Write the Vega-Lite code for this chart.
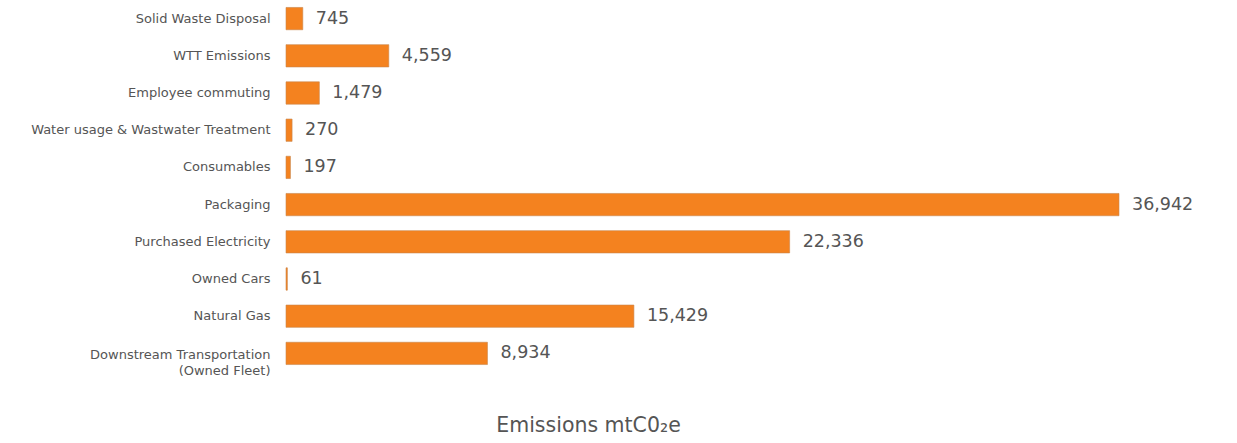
{
  "$schema": "https://vega.github.io/schema/vega-lite/v6.json",
  "autosize": "none",
  "width": 833,
  "height": 372,
  "padding": {"left": 286, "top": 0, "right": 118, "bottom": 71},
  "background": "white",
  "config": {"view": {"stroke": null}},
  "data": {"values": [
    {"category": "Solid Waste Disposal", "emissions": 745},
    {"category": "WTT Emissions", "emissions": 4559},
    {"category": "Employee commuting", "emissions": 1479},
    {"category": "Water usage & Wastwater Treatment", "emissions": 270},
    {"category": "Consumables", "emissions": 197},
    {"category": "Packaging", "emissions": 36942},
    {"category": "Purchased Electricity", "emissions": 22336},
    {"category": "Owned Cars", "emissions": 61},
    {"category": "Natural Gas", "emissions": 15429},
    {"category": "Downstream Transportation (Owned Fleet)", "emissions": 8934}
  ]},
  "encoding": {
    "y": {
      "field": "category", "type": "nominal", "sort": null,
      "scale": {"paddingInner": 0.4, "paddingOuter": 0.2},
      "axis": {
        "title": null, "domain": false, "ticks": false, "labelPadding": 16,
        "labelFont": "DejaVu Sans", "labelFontSize": 13, "labelColor": "#555555",
        "labelLimit": 400, "labelLineHeight": 16,
        "labelExpr": "datum.label == 'Downstream Transportation (Owned Fleet)' ? ['Downstream Transportation', '(Owned Fleet)'] : datum.label",
        "labelOffset": {"condition": {"test": "datum.value == 'Downstream Transportation (Owned Fleet)'", "value": 2}, "value": 0}
      }
    },
    "x": {
      "field": "emissions", "type": "quantitative",
      "scale": {"domain": [0, 36942], "nice": false},
      "axis": {
        "title": "Emissions mtC0₂e", "domain": false, "ticks": false, "labels": false, "grid": false,
        "titleFont": "DejaVu Sans", "titleFontSize": 20.5, "titleFontWeight": "normal", "titleColor": "#555555",
        "titleX": 302, "titleY": 53, "titleAlign": "center", "titleBaseline": "middle"
      }
    }
  },
  "layer": [
    {"mark": {"type": "bar", "color": "#F4821F", "stroke": "#c9864e", "strokeWidth": 0.6}},
    {"mark": {"type": "text", "align": "left", "baseline": "middle", "dx": 13, "font": "DejaVu Sans", "fontSize": 17.5, "color": "#555555"},
     "encoding": {"text": {"field": "emissions", "type": "quantitative", "format": ","}}}
  ]
}
